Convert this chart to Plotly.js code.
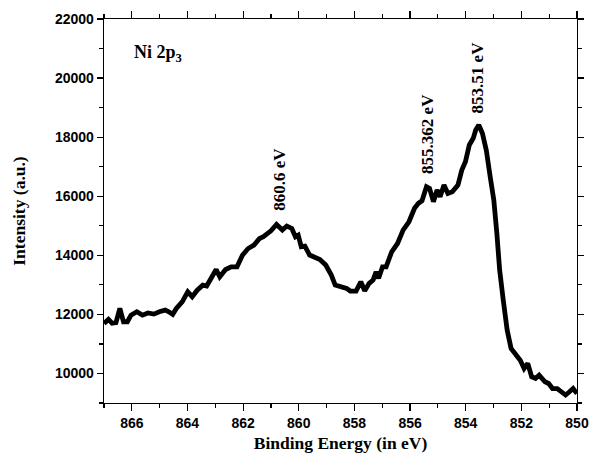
<!DOCTYPE html>
<html>
<head>
<meta charset="utf-8">
<script src="https://cdn.plot.ly/plotly-3.0.1.min.js"></script>
<style>html,body{margin:0;padding:0;background:#fff;}#chart{width:591px;height:460px;}</style>
</head>
<body>
<div id="chart"></div>
<script>
const bindingEnergy = [867.0,866.84,866.71,866.57,866.43,866.30,866.16,866.03,865.82,865.62,865.42,865.21,865.01,864.80,864.67,864.53,864.40,864.19,863.99,863.83,863.65,863.45,863.31,863.11,862.97,862.84,862.63,862.43,862.22,862.02,861.82,861.61,861.41,861.27,861.00,860.80,860.59,860.43,860.25,860.12,860.02,859.91,859.78,859.61,859.44,859.24,859.03,858.83,858.69,858.49,858.28,858.15,857.94,857.77,857.63,857.47,857.33,857.22,857.13,856.99,856.86,856.66,856.45,856.25,856.04,855.84,855.70,855.57,855.41,855.30,855.16,855.03,854.92,854.78,854.64,854.48,854.28,854.14,854.01,853.87,853.73,853.64,853.53,853.40,853.26,853.12,852.99,852.88,852.78,852.65,852.51,852.37,852.24,852.04,851.90,851.77,851.63,851.49,851.36,851.15,851.02,850.88,850.71,850.54,850.41,850.27,850.14,850.00];
const intensity = [11693,11830,11700,11720,12200,11750,11750,11975,12090,11975,12050,12010,12090,12145,12090,12000,12200,12425,12765,12600,12820,12990,12960,13330,13520,13270,13520,13610,13610,14010,14230,14345,14570,14630,14830,15045,14855,14990,14910,14630,14685,14290,14310,14010,13920,13860,13670,13330,12990,12930,12880,12790,12790,13105,12800,13050,13160,13440,13220,13610,13610,14120,14400,14855,15135,15590,15760,15850,16320,16265,15815,16210,15985,16380,16095,16150,16380,16885,17170,17735,17960,18240,18410,18130,17560,16660,15870,14740,13500,12480,11470,10850,10680,10450,10170,10340,9890,9830,9945,9720,9660,9490,9490,9380,9270,9380,9490,9320];

const peakLabels = ["860.6 eV", "855.362 eV", "853.51 eV"];
const peakX = [860.70, 855.40, 853.58];
const peakY = [15430, 16680, 18750];

const xTickVals = [866, 864, 862, 860, 858, 856, 854, 852, 850];
const yTickVals = [10000, 12000, 14000, 16000, 18000, 20000, 22000];
const yTickText = ["10000", "12000", "14000", "16000", "18000", "20000", "22000"];

const serif = "'Liberation Serif', 'Times New Roman', serif";
const sans = "'Liberation Sans', Arial, sans-serif";

const annotations = peakLabels.map((t, i) => ({
  x: peakX[i], y: peakY[i], xref: 'x', yref: 'y',
  text: t, showarrow: false, textangle: -90,
  xanchor: 'center', yanchor: 'bottom',
  font: {family: serif, size: 17, color: '#000', weight: 'bold'}
}));
annotations.push({
  x: 0.06, y: 0.945, xref: 'paper', yref: 'paper',
  xanchor: 'left', yanchor: 'top', showarrow: false,
  text: 'Ni 2p<sub>3</sub>',
  font: {family: serif, size: 18, color: '#000', weight: 'bold'}
});

const trace = {
  x: bindingEnergy, y: intensity, type: 'scatter', mode: 'lines',
  line: {color: '#000', width: 4.8}, hoverinfo: 'skip'
};

const axisCommon = {
  showline: true, linecolor: '#000', linewidth: 1.3, mirror: 'ticks',
  ticks: 'outside', ticklen: 7, tickwidth: 1.2, tickcolor: '#000',
  showgrid: false, zeroline: false,
  tickfont: {family: sans, size: 14, color: '#000', weight: 'bold'}
};

const layout = {
  width: 591, height: 460,
  margin: {l: 104, r: 14, t: 19, b: 57},
  paper_bgcolor: '#fff', plot_bgcolor: '#fff',
  showlegend: false,
  xaxis: Object.assign({}, axisCommon, {
    range: [867, 850], tickvals: xTickVals,
    minor: {dtick: 1, tick0: 850, ticks: 'outside', ticklen: 4, tickwidth: 1.2, tickcolor: '#000', showgrid: false},
    title: {text: 'Binding Energy (in eV)', standoff: 6, font: {family: serif, size: 17.5, color: '#000', weight: 'bold'}}
  }),
  yaxis: Object.assign({}, axisCommon, {
    range: [9000, 22000], tickvals: yTickVals, ticktext: yTickText, ticklen: 6,
    minor: {dtick: 1000, tick0: 9000, ticks: 'outside', ticklen: 4, tickwidth: 1.2, tickcolor: '#000', showgrid: false},
    title: {text: 'Intensity (a.u.)', standoff: 24, font: {family: serif, size: 17.5, color: '#000', weight: 'bold'}}
  }),
  annotations: annotations
};

Plotly.newPlot('chart', [trace], layout, {staticPlot: true, displayModeBar: false});
</script>
</body>
</html>
